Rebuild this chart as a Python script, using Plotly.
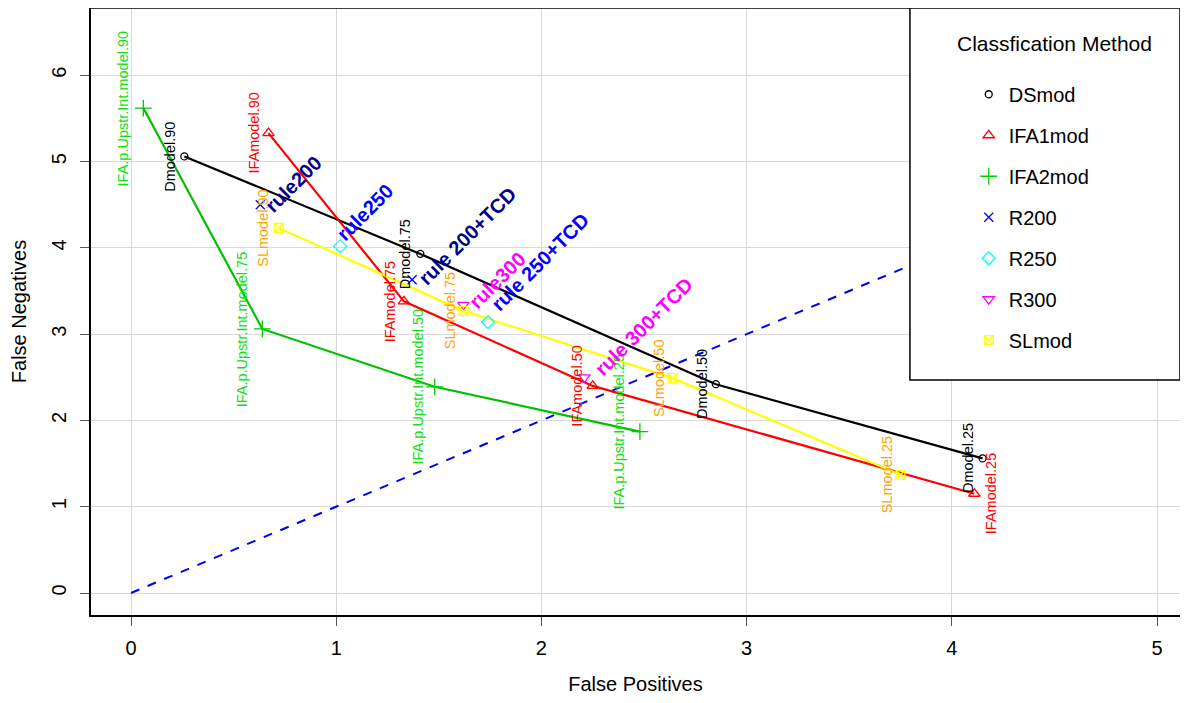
import plotly.graph_objects as go

# ---------------- data ----------------
levels = ["90", "75", "50", "25"]

ds_fp = [0.26, 1.41, 2.85, 4.15]
ds_fn = [5.06, 3.93, 2.42, 1.56]

ifa1_fp = [0.67, 1.33, 2.25, 4.11]
ifa1_fn = [5.33, 3.38, 2.40, 1.15]

ifa2_fp = [0.06, 0.64, 1.48, 2.48]
ifa2_fn = [5.62, 3.06, 2.39, 1.87]

sl_fp = [0.72, 1.62, 2.64, 3.75]
sl_fn = [4.23, 3.27, 2.49, 1.37]

r200_fp = [0.63, 1.37]
r200_fn = [4.50, 3.63]
r250_fp = [1.02, 1.74]
r250_fn = [4.02, 3.14]
r300_fp = [1.62, 2.21]
r300_fn = [3.34, 2.50]

r200_labels = ["rule200", "rule 200+TCD"]
r250_labels = ["rule250", "rule 250+TCD"]
r300_labels = ["rule300", "rule 300+TCD"]

diag = [0, 6]

x_ticks = [0, 1, 2, 3, 4, 5]
y_ticks = [0, 1, 2, 3, 4, 5, 6]

# ---------------- styling ----------------
FONT = "Liberation Sans, Arial, Helvetica, sans-serif"
GREEN_LINE = "#00C000"
GREEN_TXT = "#10E010"
ORANGE = "#FFA500"
NAVY = "#00008B"
BLUE = "#0000FF"
MAGENTA = "#FF00FF"

fig = go.Figure()

# diagonal reference line
fig.add_trace(go.Scatter(x=diag, y=diag, mode="lines",
                         line=dict(color="#0000EE", width=2, dash="dash"),
                         showlegend=False, hoverinfo="skip"))

# model lines
for fp, fn, col in [(ds_fp, ds_fn, "black"), (ifa1_fp, ifa1_fn, "#FF0000"),
                    (ifa2_fp, ifa2_fn, GREEN_LINE), (sl_fp, sl_fn, "#FFFF00")]:
    fig.add_trace(go.Scatter(x=fp, y=fn, mode="lines",
                             line=dict(color=col, width=2.2),
                             showlegend=False, hoverinfo="skip"))

# markers (legend entries)
series = [
    ("DSmod", ds_fp, ds_fn, "circle-open", "black", 7),
    ("IFA1mod", ifa1_fp, ifa1_fn, "triangle-up-open", "#FF0000", 10),
    ("IFA2mod", ifa2_fp, ifa2_fn, "cross-thin-open", "#00CC00", 12),
    ("R200", r200_fp, r200_fn, "x-thin-open", "#0000FF", 9),
    ("R250", r250_fp, r250_fn, "diamond-open", "#00FFFF", 10),
    ("R300", r300_fp, r300_fn, "triangle-down-open", "#FF00FF", 10),
    ("SLmod", sl_fp, sl_fn, "square-x-open", "#FFFF00", 9),
]
for name, fp, fn, sym, col, sz in series:
    fig.add_trace(go.Scatter(x=fp, y=fn, mode="markers", name=name,
                             legendgroup=name,
                             marker=dict(symbol=sym, color=col, size=sz,
                                         line=dict(color=col, width=1.3))))

annotations = []

# vertical model labels
def add_vlabels(fp, fn, prefix, color, shifts):
    for lvl, x, y, sh in zip(levels, fp, fn, shifts):
        annotations.append(dict(x=x, y=y, xref="x", yref="y",
                                text=prefix + lvl, showarrow=False,
                                textangle=-90, xshift=sh,
                                font=dict(family=FONT, size=14.5, color=color)))

add_vlabels(ds_fp, ds_fn, "Dmodel.", "black", [-14, -15, -14, -14])
add_vlabels(ifa1_fp, ifa1_fn, "IFAmodel.", "#FF0000", [-14, -14, -16, 16])
add_vlabels(ifa2_fp, ifa2_fn, "IFA.p.Upstr.Int.model.", GREEN_TXT, [-20, -20, -17, -21])
add_vlabels(sl_fp, sl_fn, "SLmodel.", ORANGE, [-16, -14, -14, -14])

# diagonal rule labels
rule_sets = [
    (r200_fp, r200_fn, r200_labels, NAVY, [(33, 21), (55, 44)]),
    (r250_fp, r250_fn, r250_labels, BLUE, [(25, 34), (52, 60)]),
    (r300_fp, r300_fn, r300_labels, MAGENTA, [(34, 25), (59, 50)]),
]
for fp, fn, labs, col, shifts in rule_sets:
    for x, y, lab, (sx, sy) in zip(fp, fn, labs, shifts):
        annotations.append(dict(x=x, y=y, xref="x", yref="y", text="<b>" + lab + "</b>",
                                showarrow=False, textangle=-45, xshift=sx, yshift=sy,
                                font=dict(family=FONT, size=20, color=col)))

# legend title
annotations.append(dict(x=0.8843, y=0.9407, xref="paper", yref="paper",
                        xanchor="center", yanchor="middle",
                        text="Classfication Method", showarrow=False,
                        font=dict(family=FONT, size=21, color="black")))

shapes = [
    # top frame line
    dict(type="line", xref="paper", yref="paper", x0=0, x1=1, y0=1, y1=1,
         line=dict(color="black", width=1.5), layer="above"),
    # legend box
    dict(type="rect", xref="paper", yref="paper",
         x0=0.752, x1=1.0, y0=0.387, y1=1.0,
         line=dict(color="black", width=1.5),
         fillcolor="white", layer="above"),
]

fig.update_layout(
    width=1172, height=687,
    margin=dict(l=83, r=0, t=0, b=80, autoexpand=False),
    paper_bgcolor="white", plot_bgcolor="white",
    font=dict(family=FONT, size=20, color="black"),
    annotations=annotations,
    shapes=shapes,
    legend=dict(x=0.806, y=0.890, xanchor="left", yanchor="top",
                bgcolor="rgba(0,0,0,0)", borderwidth=0,
                font=dict(family=FONT, size=20, color="black"),
                tracegroupgap=12, itemwidth=30),
    xaxis=dict(range=[-0.195, 5.112], tickvals=x_ticks, showgrid=True,
               gridcolor="#D9D9D9", gridwidth=1, zeroline=False,
               showline=True, linecolor="black", linewidth=1.5, mirror=False,
               ticks="outside", ticklen=9, tickcolor="#555555",
               tickfont=dict(size=20), ticklabelstandoff=5, automargin=False,
               title=dict(text="False Positives", font=dict(size=20), standoff=28)),
    yaxis=dict(range=[-0.255, 6.78], tickvals=y_ticks, showgrid=True,
               gridcolor="#D9D9D9", gridwidth=1, zeroline=False,
               showline=True, linecolor="black", linewidth=1.5, mirror=False,
               ticks="outside", ticklen=9, tickcolor="#555555",
               tickangle=-90, tickfont=dict(size=20), ticklabelstandoff=6,
               automargin=False,
               title=dict(text="False Negatives", font=dict(size=20), standoff=16)),
)

fig.write_html("out.html")
